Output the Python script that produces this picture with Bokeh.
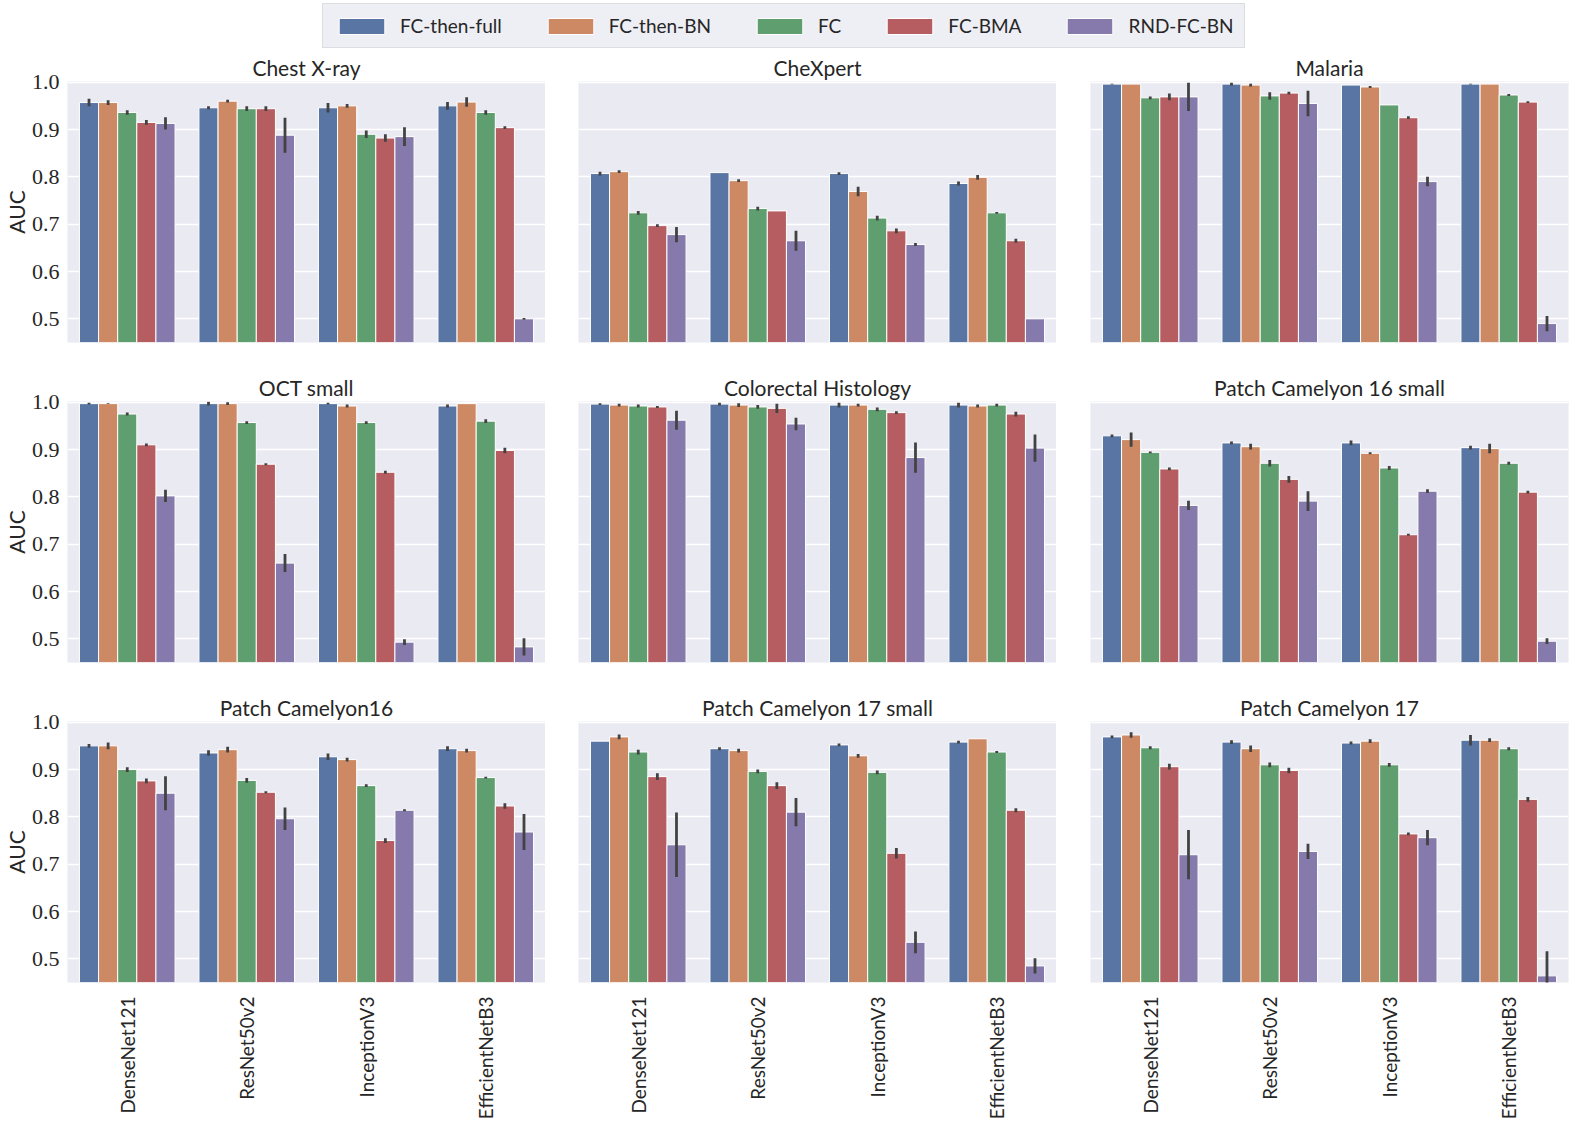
import math
from bokeh.plotting import figure
from bokeh.layouts import column, row
from bokeh.models import (ColumnDataSource, Range1d, FactorRange, FixedTicker,
                          PrintfTickFormatter, Legend, LegendItem)
from bokeh.transform import dodge
from bokeh.embed import file_html
from bokeh.resources import INLINE
from bokeh.core.properties import value

MODELS = ["DenseNet121", "ResNet50v2", "InceptionV3", "EfficientNetB3"]
METHODS = ["FC-then-full", "FC-then-BN", "FC", "FC-BMA", "RND-FC-BN"]
COLORS = ["#5975A4", "#CC8963", "#5F9E6E", "#B55D60", "#857AAB"]
Y_TICKS = [0.5, 0.6, 0.7, 0.8, 0.9, 1.0]

# rows = models, columns = methods (mean AUC and error-bar half width)
chest_xray_auc = [[0.957, 0.957, 0.936, 0.915, 0.913],
                  [0.946, 0.960, 0.944, 0.944, 0.888],
                  [0.946, 0.950, 0.890, 0.882, 0.885],
                  [0.950, 0.958, 0.936, 0.904, 0.500]]
chest_xray_err = [[0.008, 0.005, 0.005, 0.005, 0.013],
                  [0.003, 0.003, 0.005, 0.005, 0.037],
                  [0.010, 0.004, 0.008, 0.008, 0.020],
                  [0.008, 0.010, 0.005, 0.003, 0.002]]

chexpert_auc = [[0.807, 0.811, 0.724, 0.697, 0.678],
                [0.809, 0.792, 0.733, 0.728, 0.665],
                [0.807, 0.769, 0.713, 0.686, 0.657],
                [0.786, 0.799, 0.724, 0.665, 0.500]]
chexpert_err = [[0.004, 0.003, 0.004, 0.003, 0.016],
                [0.000, 0.003, 0.004, 0.000, 0.021],
                [0.003, 0.010, 0.005, 0.005, 0.003],
                [0.004, 0.005, 0.002, 0.004, 0.000]]

malaria_auc = [[0.996, 0.996, 0.967, 0.969, 0.969],
               [0.996, 0.994, 0.971, 0.977, 0.955],
               [0.994, 0.990, 0.952, 0.925, 0.790],
               [0.996, 0.996, 0.973, 0.958, 0.490]]
malaria_err = [[0.001, 0.000, 0.003, 0.007, 0.030],
               [0.003, 0.003, 0.008, 0.003, 0.027],
               [0.000, 0.002, 0.000, 0.003, 0.010],
               [0.001, 0.000, 0.002, 0.002, 0.016]]

oct_small_auc = [[0.997, 0.997, 0.975, 0.910, 0.802],
                 [0.997, 0.997, 0.957, 0.869, 0.660],
                 [0.997, 0.992, 0.957, 0.852, 0.493],
                 [0.992, 0.997, 0.960, 0.898, 0.483]]
oct_small_err = [[0.002, 0.001, 0.003, 0.003, 0.013],
                 [0.004, 0.003, 0.003, 0.002, 0.019],
                 [0.002, 0.003, 0.003, 0.003, 0.006],
                 [0.003, 0.000, 0.004, 0.006, 0.018]]

colorectal_auc = [[0.996, 0.994, 0.992, 0.990, 0.962],
                  [0.996, 0.994, 0.990, 0.987, 0.954],
                  [0.994, 0.994, 0.985, 0.978, 0.883],
                  [0.994, 0.992, 0.994, 0.975, 0.903]]
colorectal_err = [[0.002, 0.003, 0.003, 0.002, 0.020],
                  [0.003, 0.004, 0.004, 0.010, 0.013],
                  [0.005, 0.003, 0.004, 0.003, 0.032],
                  [0.005, 0.003, 0.003, 0.005, 0.029]]

pcam16_small_auc = [[0.929, 0.921, 0.894, 0.859, 0.782],
                    [0.914, 0.906, 0.871, 0.837, 0.791],
                    [0.914, 0.892, 0.861, 0.720, 0.812],
                    [0.904, 0.902, 0.871, 0.810, 0.495]]
pcam16_small_err = [[0.003, 0.015, 0.002, 0.003, 0.010],
                    [0.003, 0.006, 0.007, 0.007, 0.021],
                    [0.005, 0.002, 0.004, 0.002, 0.004],
                    [0.004, 0.010, 0.003, 0.003, 0.006]]

pcam16_auc = [[0.950, 0.950, 0.900, 0.876, 0.850],
              [0.935, 0.942, 0.877, 0.852, 0.796],
              [0.927, 0.921, 0.866, 0.750, 0.814],
              [0.944, 0.940, 0.883, 0.823, 0.768]]
pcam16_err = [[0.004, 0.007, 0.005, 0.005, 0.036],
              [0.006, 0.006, 0.005, 0.002, 0.024],
              [0.007, 0.004, 0.003, 0.005, 0.002],
              [0.005, 0.004, 0.002, 0.006, 0.038]]

pcam17_small_auc = [[0.960, 0.969, 0.937, 0.885, 0.741],
                    [0.944, 0.940, 0.896, 0.866, 0.810],
                    [0.952, 0.929, 0.894, 0.723, 0.535],
                    [0.958, 0.965, 0.937, 0.814, 0.485]]
pcam17_small_err = [[0.000, 0.005, 0.005, 0.007, 0.068],
                    [0.003, 0.004, 0.004, 0.007, 0.030],
                    [0.003, 0.004, 0.004, 0.011, 0.023],
                    [0.003, 0.000, 0.002, 0.004, 0.016]]

pcam17_auc = [[0.969, 0.973, 0.946, 0.906, 0.720],
              [0.958, 0.944, 0.910, 0.898, 0.727],
              [0.956, 0.960, 0.910, 0.764, 0.756],
              [0.962, 0.962, 0.944, 0.837, 0.464]]
pcam17_err = [[0.003, 0.006, 0.003, 0.006, 0.052],
              [0.004, 0.007, 0.005, 0.006, 0.016],
              [0.003, 0.004, 0.004, 0.003, 0.016],
              [0.011, 0.004, 0.003, 0.005, 0.052]]

PANELS = [
    ("Chest X-ray", chest_xray_auc, chest_xray_err),
    ("CheXpert", chexpert_auc, chexpert_err),
    ("Malaria", malaria_auc, malaria_err),
    ("OCT small", oct_small_auc, oct_small_err),
    ("Colorectal Histology", colorectal_auc, colorectal_err),
    ("Patch Camelyon 16 small", pcam16_small_auc, pcam16_small_err),
    ("Patch Camelyon16", pcam16_auc, pcam16_err),
    ("Patch Camelyon 17 small", pcam17_small_auc, pcam17_small_err),
    ("Patch Camelyon 17", pcam17_auc, pcam17_err),
]

TEXT = "#262626"
SANS = "Lato"
SERIF = "Liberation Serif"
BAR_W = 0.16
FRAME_W = 478
FRAME_H = 261
LEFT_BORDERS = [60, 33, 34]
RIGHT_BORDERS = [0, 0, 4]


def make_panel(idx, title, auc, err):
    r, c = divmod(idx, 3)
    bottom = r == 2
    p = figure(frame_width=FRAME_W, frame_height=FRAME_H,
               x_range=FactorRange(*MODELS, range_padding=0),
               y_range=Range1d(0.45, 1.0015),
               output_backend="svg", toolbar_location=None,
               min_border_left=LEFT_BORDERS[c], min_border_right=RIGHT_BORDERS[c],
               min_border_top=30, min_border_bottom=(130 if bottom else 29),
               background_fill_color="#EAEAF2", border_fill_color="white",
               outline_line_color=None)
    p.title.text = title
    p.title.align = "center"
    p.title.text_font = SANS
    p.title.text_font_size = "21px"
    p.title.text_font_style = "normal"
    p.title.text_color = TEXT
    p.title.standoff = 3

    for j, (m, col) in enumerate(zip(METHODS, COLORS)):
        tops = [auc[i][j] for i in range(len(MODELS))]
        errs = [err[i][j] for i in range(len(MODELS))]
        src = ColumnDataSource(dict(model=MODELS, top=tops,
                                    lo=[t - e for t, e in zip(tops, errs)],
                                    hi=[t + e for t, e in zip(tops, errs)]))
        xd = dodge("model", (j - 2) * BAR_W, range=p.x_range)
        p.vbar(x=xd, top="top", bottom=0, width=BAR_W, source=src,
               fill_color=col, line_color="white", line_width=1)
        p.segment(x0=xd, y0="lo", x1=xd, y1="hi", source=src,
                  line_color="#424242", line_width=2.8, line_cap="butt")

    p.xgrid.visible = False
    p.ygrid.ticker = FixedTicker(ticks=Y_TICKS)
    p.ygrid.grid_line_color = "white"
    p.ygrid.grid_line_width = 1.3

    if c == 0:
        ax = p.yaxis[0]
        ax.ticker = FixedTicker(ticks=Y_TICKS)
        ax.formatter = PrintfTickFormatter(format="%.1f")
        ax.axis_label = "AUC"
        ax.axis_label_text_font = SANS
        ax.axis_label_text_font_size = "21px"
        ax.axis_label_text_font_style = "normal"
        ax.axis_label_text_color = TEXT
        ax.axis_label_standoff = 0
        ax.major_label_text_font = SERIF
        ax.major_label_text_font_size = "22px"
        ax.major_label_text_color = TEXT
        ax.major_label_standoff = 8
        ax.major_tick_out = 0
        ax.major_tick_in = 0
        ax.minor_tick_out = 0
        ax.minor_tick_in = 0
        ax.axis_line_color = None
        ax.major_tick_line_color = None
        ax.minor_tick_line_color = None
    else:
        p.yaxis.visible = False

    if bottom:
        ax = p.xaxis[0]
        ax.major_label_orientation = math.pi / 2
        ax.major_label_text_font = SANS
        ax.major_label_text_font_size = "19px"
        ax.major_label_text_color = TEXT
        ax.major_label_standoff = 14
        ax.major_tick_out = 0
        ax.major_tick_in = 0
        ax.axis_line_color = None
        ax.major_tick_line_color = None
        ax.minor_tick_line_color = None
    else:
        p.xaxis.visible = False
    return p


panels = [make_panel(i, *spec) for i, spec in enumerate(PANELS)]

TOTAL_W = sum(LEFT_BORDERS) + sum(RIGHT_BORDERS) + 3 * FRAME_W
LEG_H = 51
leg_fig = figure(width=TOTAL_W, height=LEG_H, x_range=Range1d(0, 1), y_range=Range1d(0, 1),
                 output_backend="svg", toolbar_location=None,
                 min_border_left=0, min_border_right=0, min_border_top=0, min_border_bottom=0,
                 outline_line_color=None, background_fill_color="white")
leg_fig.axis.visible = False
leg_fig.grid.visible = False
items = []
for m, col in zip(METHODS, COLORS):
    # an off-range bar only so that the legend gets a swatch
    rr = leg_fig.vbar(x=[5.0], top=[0.5], width=0.1, fill_color=col,
                      line_color="white", line_width=1)
    items.append(LegendItem(label=m, renderers=[rr]))
legend = Legend(items=items, orientation="horizontal", location=(322, 3),
                glyph_width=57, glyph_height=20, label_standoff=10, spacing=40,
                padding=10, margin=0,
                label_text_font=SANS, label_text_font_size="19px", label_text_color=TEXT,
                label_height=20,
                border_line_color="#CCCCCC", border_line_width=1,
                background_fill_color="#EAEAF2", background_fill_alpha=0.8)
leg_fig.add_layout(legend, "center")

layout = column(leg_fig,
                row(*panels[0:3]),
                row(*panels[3:6]),
                row(*panels[6:9]))

open("out.html", "w").write(file_html(layout, INLINE))
